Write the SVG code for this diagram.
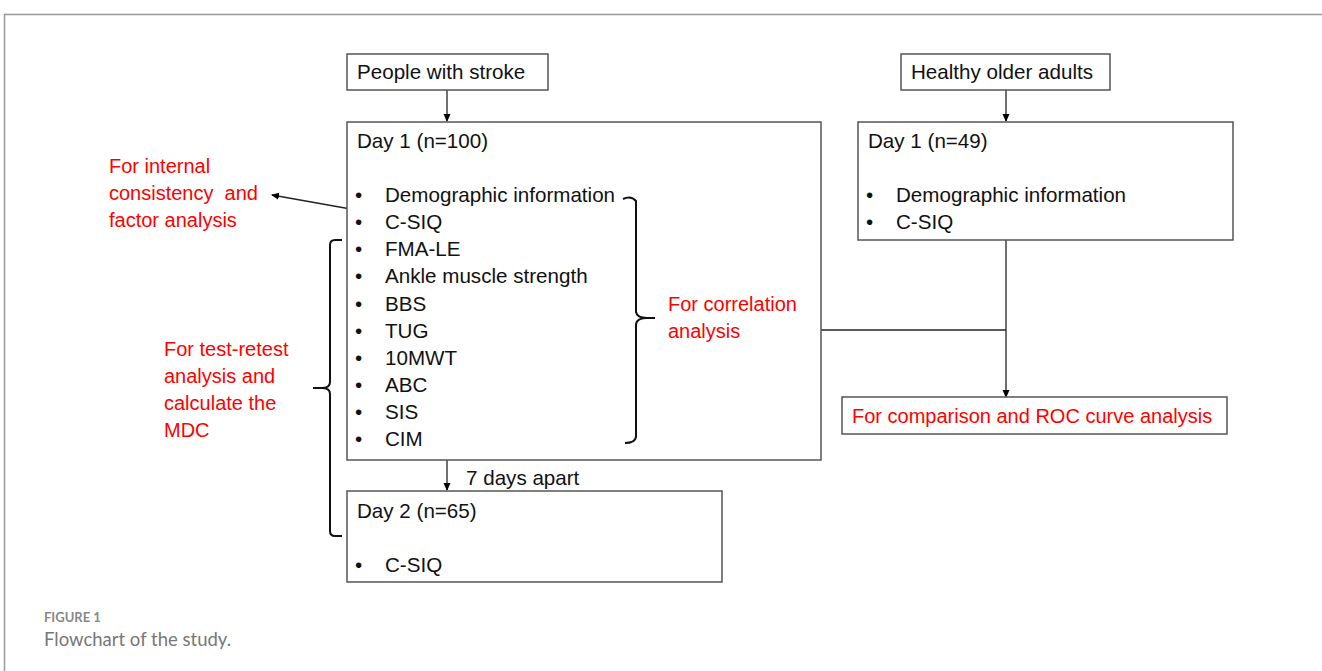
<svg xmlns="http://www.w3.org/2000/svg" width="1322" height="671" viewBox="0 0 1322 671">
<defs>
<marker id="ah" markerWidth="8" markerHeight="8" refX="7" refY="4" orient="auto" markerUnits="userSpaceOnUse">
<path d="M0,0.5 L8,4 L0,7.5 Z" fill="#000"/>
</marker>
<style>
.box{fill:#fff;stroke:#555;stroke-width:1.5}
.t{font-family:"Liberation Sans",Arial,sans-serif;font-size:20.6px;fill:#111}
.r{font-family:"Liberation Sans",Arial,sans-serif;font-size:20px;fill:#ff0000}
.ln{fill:none;stroke:#222;stroke-width:1.3}
.br{fill:none;stroke:#111;stroke-width:2}
</style>
</defs>
<rect width="1322" height="671" fill="#fff"/>
<g id="frame">
<path d="M4.5,671 V14.5 H1322" fill="none" stroke="#999" stroke-width="1.5"/>
</g>
<g id="connectors">
<line class="ln" x1="447" y1="90" x2="447" y2="121" marker-end="url(#ah)"/>
<line class="ln" x1="1006" y1="90" x2="1006" y2="121" marker-end="url(#ah)"/>
<line class="ln" x1="447" y1="460" x2="447" y2="490" marker-end="url(#ah)"/>
<line class="ln" x1="1006" y1="240" x2="1006" y2="397" marker-end="url(#ah)"/>
<line class="ln" x1="821" y1="330" x2="1006" y2="330"/>
<line class="ln" x1="373" y1="213" x2="272" y2="195" marker-end="url(#ah)"/>
</g>
<g id="stroke">
<rect class="box" x="347" y="54" width="201" height="36"/>
<text class="t" x="357" y="79">People with stroke</text>
</g>
<g id="healthy">
<rect class="box" x="901" y="54" width="209" height="36"/>
<text class="t" x="911" y="79">Healthy older adults</text>
</g>
<g id="day1">
<rect class="box" x="347" y="122" width="474" height="338"/>
<text class="t" x="357" y="148">Day 1 (n=100)</text>
<g class="t">
<text x="355" y="202">•</text><text x="385" y="202">Demographic information</text>
<text x="355" y="229">•</text><text x="385" y="229">C-SIQ</text>
<text x="355" y="256">•</text><text x="385" y="256">FMA-LE</text>
<text x="355" y="283">•</text><text x="385" y="283">Ankle muscle strength</text>
<text x="355" y="311">•</text><text x="385" y="311">BBS</text>
<text x="355" y="338">•</text><text x="385" y="338">TUG</text>
<text x="355" y="365">•</text><text x="385" y="365">10MWT</text>
<text x="355" y="392">•</text><text x="385" y="392">ABC</text>
<text x="355" y="419">•</text><text x="385" y="419">SIS</text>
<text x="355" y="446">•</text><text x="385" y="446">CIM</text>
</g>
</g>
<g id="day1h">
<rect class="box" x="858" y="122" width="375" height="118"/>
<text class="t" x="868" y="148">Day 1 (n=49)</text>
<text class="t" x="866" y="202">•</text><text class="t" x="896" y="202">Demographic information</text>
<text class="t" x="866" y="229">•</text><text class="t" x="896" y="229">C-SIQ</text>
</g>
<g id="roc">
<rect class="box" x="842" y="397" width="385" height="37"/>
<text class="r" x="852" y="423">For comparison and ROC curve analysis</text>
</g>
<g id="day2">
<rect class="box" x="347" y="491" width="375" height="91"/>
<text class="t" x="357" y="518">Day 2 (n=65)</text>
<text class="t" x="355" y="572">•</text><text class="t" x="385" y="572">C-SIQ</text>
</g>
<g id="gap">
<text class="t" x="466" y="485">7 days apart</text>
</g>
<g id="internal">
<text class="r" x="109" y="173">For internal</text>
<text class="r" x="109" y="200" xml:space="preserve">consistency  and</text>
<text class="r" x="109" y="227">factor analysis</text>
</g>
<g id="brace-right">
<path class="br" d="M623,199 Q631,195 636,201 V312 Q637,318 647,318 H655 M647,318 Q637,318 636,324 V437 Q635,443 625,443"/>
<text class="r" x="668" y="311">For correlation</text>
<text class="r" x="668" y="338">analysis</text>
</g>
<g id="brace-left">
<path class="br" d="M342,240 H335 Q330,240 330,245 V382 Q330,388 322,388 H313 M322,388 Q330,388 330,394 V531 Q330,536 335,536 H342"/>
<text class="r" x="164" y="356">For test-retest</text>
<text class="r" x="164" y="383">analysis and</text>
<text class="r" x="164" y="410">calculate the</text>
<text class="r" x="164" y="437">MDC</text>
</g>
<g id="caption">
<text x="44" y="622" font-family="Lato,'Open Sans',sans-serif" font-size="13" font-weight="bold" fill="#888">FIGURE 1</text>
<text x="44" y="646" font-family="Lato,'Open Sans',sans-serif" font-size="18.5" fill="#777">Flowchart of the study.</text>
</g>
</svg>
